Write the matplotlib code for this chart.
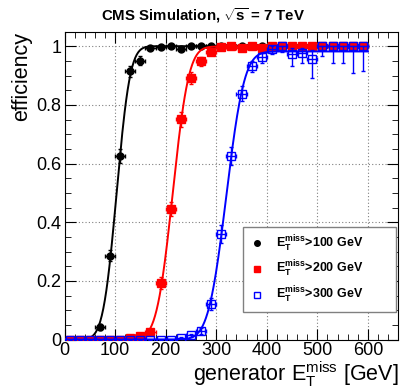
import math
import numpy as np
import matplotlib
matplotlib.use('Agg')
import matplotlib.pyplot as plt
from matplotlib.lines import Line2D
from matplotlib.ticker import MultipleLocator

plt.rcParams['font.family'] = ['Liberation Sans', 'DejaVu Sans']
plt.rcParams['mathtext.fontset'] = 'custom'
plt.rcParams['mathtext.rm'] = 'Liberation Sans'
plt.rcParams['mathtext.it'] = 'Liberation Sans'
plt.rcParams['mathtext.bf'] = 'Liberation Sans:bold'

# generator MET bin centres (20 GeV bins)
met = [10, 30, 50, 70, 90, 110, 130, 150, 170, 190, 210, 230, 250, 270, 290,
       310, 330, 350, 370, 390, 410, 430, 450, 470, 490, 510, 530, 550, 570, 590]

eff_100 = [0, 0, 0, 0.043, 0.286, 0.626, 0.914, 0.951, 0.994, 0.997, 1.0, 0.99, 1.0, 1.0, 1.0,
           1.0, 1.0, 1.0, 1.0, 1.0, 1.0, 1.0, 1.0, 1.0, 1.0, 1.0, 1.0, 1.0, 1.0, 1.0]
err_100 = [0, 0, 0, 0.01, 0.02, 0.025, 0.02, 0.015, 0.005, 0, 0, 0, 0, 0, 0,
           0, 0, 0, 0, 0, 0, 0, 0, 0, 0, 0, 0, 0, 0, 0]

eff_200 = [0, 0, 0, 0, 0, 0, 0.005, 0.012, 0.027, 0.192, 0.445, 0.751, 0.891, 0.949, 0.98,
           0.997, 1.0, 0.994, 1.0, 0.995, 1.0, 1.0, 1.0, 1.0, 1.0, 1.0, 1.0, 1.0, 1.0, 1.0]
err_200 = [0, 0, 0, 0, 0, 0, 0.003, 0.005, 0.008, 0.02, 0.025, 0.025, 0.02, 0.015, 0.01,
           0.005, 0, 0.005, 0, 0.005, 0, 0, 0, 0, 0, 0, 0, 0, 0, 0]

eff_300 = [0, 0, 0, 0, 0, 0, 0, 0, 0, 0, 0, 0.005, 0.014, 0.03, 0.12,
           0.359, 0.626, 0.838, 0.931, 0.963, 0.99, 1.0, 0.973, 0.978, 0.957, 1.0, 1.0, 1.0, 1.0, 1.0]
err_300_lo = [0, 0, 0, 0, 0, 0, 0, 0, 0, 0, 0, 0.003, 0.005, 0.01, 0.02,
              0.03, 0.03, 0.025, 0.02, 0.02, 0.015, 0.02, 0.04, 0.035, 0.066, 0.035, 0.057, 0.057, 0.092, 0.086]
err_300_hi = [0, 0, 0, 0, 0, 0, 0, 0, 0, 0, 0, 0.003, 0.005, 0.01, 0.02,
              0.03, 0.03, 0.025, 0.02, 0.015, 0.01, 0, 0.02, 0.015, 0.03, 0, 0, 0, 0, 0]

# fitted turn-on curves: plateau, mean, width
fit_100 = (1.0, 103, 21)
fit_200 = (0.999, 214, 25)
fit_300 = (0.982, 320, 28)


def turn_on(x, p):
    plateau, mu, sigma = p
    return [0.5 * plateau * (1 + math.erf((v - mu) / (math.sqrt(2) * sigma))) for v in x]


fig = plt.figure(figsize=(4.07, 3.91), dpi=100)
ax = fig.add_axes([0.1585, 0.1317, 0.8201, 0.7877])

xs = np.linspace(0, 600, 400)
xerr = [10] * len(met)

ax.errorbar(met, eff_100, xerr=xerr, yerr=err_100, fmt='o', color='black', ms=5,
            elinewidth=1, capsize=1.5, zorder=3)
ax.plot(xs, turn_on(xs, fit_100), color='black', lw=1.4, zorder=3)

ax.errorbar(met, eff_200, xerr=xerr, yerr=err_200, fmt='s', color='red', ms=5.5,
            elinewidth=1, capsize=1.5, zorder=4)
ax.plot(xs, turn_on(xs, fit_200), color='red', lw=1.4, zorder=4)

ax.errorbar(met, eff_300, xerr=xerr, yerr=[err_300_lo, err_300_hi], fmt='s', color='blue',
            mfc='none', ms=5.5, mew=1, elinewidth=1, capsize=1.5, zorder=5)
ax.plot(xs, turn_on(xs, fit_300), color='blue', lw=1.4, zorder=5)

ax.set_xlim(0, 660)
ax.set_ylim(0, 1.05)
ax.xaxis.set_major_locator(MultipleLocator(100))
ax.xaxis.set_minor_locator(MultipleLocator(20))
ax.yaxis.set_major_locator(MultipleLocator(0.2))
ax.yaxis.set_minor_locator(MultipleLocator(0.05))
ax.set_yticks([0, 0.2, 0.4, 0.6, 0.8, 1.0])
ax.set_yticklabels(['0', '0.2', '0.4', '0.6', '0.8', '1'])
ax.tick_params(which='both', direction='in', top=True, right=True, labelsize=13, pad=2)
ax.tick_params(which='major', length=8)
ax.tick_params(which='minor', length=4)
ax.grid(True, which='major', color='gray', linestyle=(0, (1, 2)), lw=0.8)

ax.set_ylabel('efficiency', fontsize=15.5, loc='top', labelpad=3)
ax.set_xlabel(r'generator $\mathrm{E_T^{miss}}$ [GeV]', fontsize=15.5, loc='right', labelpad=0)

fig.text(0.5, 0.96, r'CMS Simulation, $\sqrt{\mathbf{s}}$ = 7 TeV', ha='center', va='center',
         fontsize=10.8, fontweight='bold')

handles = [
    Line2D([], [], ls='none', marker='o', color='black', ms=4),
    Line2D([], [], ls='none', marker='s', color='red', ms=4.5),
    Line2D([], [], ls='none', marker='s', color='blue', mfc='none', ms=4.5),
]
labels = [r'$\mathbf{E_T^{miss}}$>100 GeV', r'$\mathbf{E_T^{miss}}$>200 GeV',
          r'$\mathbf{E_T^{miss}}$>300 GeV']
leg = ax.legend(handles, labels, loc='lower left', bbox_to_anchor=(0.535, 0.089, 0.458, 0.2535),
                mode='expand', frameon=True, fancybox=False, edgecolor='gray',
                framealpha=1, handlelength=1.2, handletextpad=0.9, labelspacing=0.45,
                borderpad=0.55, borderaxespad=0, prop={'weight': 'bold', 'size': 9})
leg.get_frame().set_linewidth(1)
leg.set_zorder(10)

fig.savefig('out.png', dpi=100)
